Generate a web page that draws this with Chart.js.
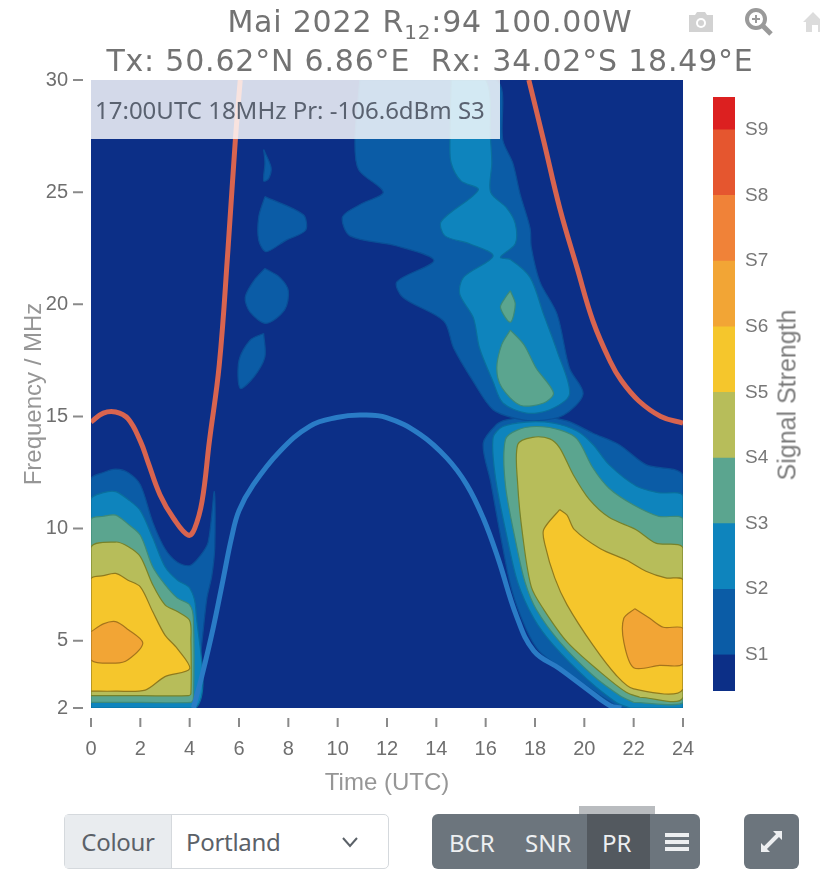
<!DOCTYPE html>
<html lang="de">
<head>
    <meta charset="UTF-8">
    <title>Propagation PR</title>
    <script src="https://cdn.jsdelivr.net/npm/chart.js"></script>
    <style>
        body { margin: 0; background: #fff; width: 820px; height: 871px; overflow: hidden; position: relative; font-family: "Liberation Sans", sans-serif; }
        canvas { position: absolute; }
        .title { position: absolute; left: 0; width: 860px; text-align: center; font-family: "DejaVu Sans", sans-serif; font-size: 30px; line-height: 36px; color: #737373; white-space: pre; letter-spacing: .8px; }
        .title sub { font-size: 20px; line-height: 0; vertical-align: -7px; }
        .hover { position: absolute; left: 91px; top: 80px; width: 409px; height: 59px; box-sizing: border-box; background: rgba(255,255,255,.82); padding: 13px 0 0 4px; font-family: "Noto Sans", sans-serif; font-size: 24px; line-height: 33px; color: #5a6270; white-space: nowrap; }
        .sideTitle { position: absolute; left: 787px; top: 395px; transform: translate(-50%,-50%) rotate(-90deg); font-size: 25px; color: #7d7d7d; white-space: nowrap; }
        .colourBox { position: absolute; left: 64px; top: 814px; width: 325px; height: 55px; box-sizing: border-box; border: 1px solid #d5d9dd; border-radius: 5px; display: flex; font-family: "Noto Sans", sans-serif; font-size: 24px; color: #5b6168; letter-spacing: -.3px; }
        .colourBox span:first-child { width: 106px; background: #e9ecef; text-align: center; line-height: 53px; border-right: 1px solid #d5d9dd; }
        .colourBox span:nth-child(2) { padding-left: 14px; line-height: 53px; }
        .btns { position: absolute; left: 432px; top: 814px; width: 268px; height: 55px; background: #6c757d; border-radius: 6px; color: #edeff1; font-family: "Noto Sans", sans-serif; font-size: 24px; }
        .btns span { position: absolute; top: 0; line-height: 57px; }
        .active { position: absolute; left: 155px; top: 0; width: 63px; height: 55px; background: #53595f; }
        .tab { position: absolute; left: 579px; top: 806px; width: 76px; height: 8px; background: #b9bcbf; }
        .bigBtn { position: absolute; left: 744px; top: 814px; width: 55px; height: 55px; background: #6c757d; border-radius: 6px; }
        svg { position: absolute; }
    </style>
</head>
<body>
    <canvas id="plot" width="700" height="800" style="left:0;top:0"></canvas>
    <canvas id="bar" width="120" height="720" style="left:700px;top:0"></canvas>

    <div class="title" style="top:4px">Mai 2022 R<sub>12</sub>:94 100.00W</div>
    <div class="title" style="top:43px">Tx: 50.62°N 6.86°E  Rx: 34.02°S 18.49°E</div>
    <div class="hover">17:00UTC 18MHz Pr: -106.6dBm S3</div>
    <div class="sideTitle">Signal Strength</div>

    <svg style="left:686px;top:9px" width="30" height="26" viewBox="0 0 30 26"><path d="M3 6h6l2-3h8l2 3h6v17H3z" fill="#d2d2d2"/><circle cx="15" cy="14" r="5" fill="#fff"/><circle cx="15" cy="14" r="3" fill="#d2d2d2"/></svg>
    <svg style="left:743px;top:6px" width="32" height="32" viewBox="0 0 32 32"><circle cx="13" cy="13" r="9" fill="none" stroke="#9a9a9a" stroke-width="4"/><path d="M19 19l9 9" stroke="#9a9a9a" stroke-width="5"/><path d="M9 13h8M13 9v8" stroke="#9a9a9a" stroke-width="2"/></svg>
    <svg style="left:803px;top:9px" width="17" height="26" viewBox="0 0 17 26"><path d="M10 3L0 13h3v10h6v-7h6v7h2V10z" fill="#dcdcdc"/></svg>

    <div class="colourBox"><span>Colour</span><span>Portland</span></div>
    <svg style="left:341px;top:836px" width="18" height="12" viewBox="0 0 18 12"><path d="M2 2l7 8 7-8" fill="none" stroke="#5b6168" stroke-width="2"/></svg>

    <div class="tab"></div>
    <div class="btns">
        <div class="active"></div>
        <span style="left:17px">BCR</span>
        <span style="left:93px">SNR</span>
        <span style="left:170px">PR</span>
        <svg style="left:232px;top:18px" width="26" height="20" viewBox="0 0 26 20"><path d="M1 3h24M1 10h24M1 17h24" stroke="#edeff1" stroke-width="4"/></svg>
    </div>
    <div class="bigBtn"><svg style="left:14px;top:14px" width="27" height="27" viewBox="0 0 27 27"><path d="M5 22L22 5" stroke="#edeff1" stroke-width="4"/><path d="M15 3h9v9zM3 15v9h9z" fill="#edeff1"/></svg></div>

    <script>
        // axes
        const timeTicks = [0, 2, 4, 6, 8, 10, 12, 14, 16, 18, 20, 22, 24];
        const freqTicks = [2, 5, 10, 15, 20, 25, 30];
        const sLevels = [1, 2, 3, 4, 5, 6, 7, 8, 9];
        const barEdges = [0.45, 1, 2, 3, 4, 5, 6, 7, 8, 9, 9.5];

        // contour outlines, [hour UTC, MHz], one array per closed region
        const s1Left = [[0,2],[0,12.2],[0.5,12.5],[1,12.65],[1.5,12.5],[2,11.95],[2.5,10.3],[3,9.1],[3.5,8.5],[4,8.35],[4.4,8.75],[4.75,9.4],[5,11.65],[5.02,9.2],[4.9,7.9],[4.7,6.9],[4.5,4.95],[4.35,3.45],[4.1,2]];
        const s1Upper = [[10.9,30],[10.7,27.3],[10.85,26],[11.85,25],[11,24.5],[10.2,23.9],[10.5,23.05],[12.4,22.6],[13.9,21.95],[12.4,21],[12.65,20.3],[14.3,19.25],[14.7,18.05],[15.5,16.55],[16.3,15.3],[17.25,14.9],[18.05,14.8],[19.15,15.05],[19.95,16],[19.4,17.15],[18.9,19.55],[18.2,21],[17.85,22.55],[17.8,23.4],[17.4,24.9],[17.1,26.3],[16.7,27.3],[16.4,30]];
        const s1Right = [[21.45,2],[20.65,2.55],[19.3,3.6],[18.2,4.5],[17.65,5.5],[17.05,7.3],[16.6,9.7],[16.2,12.1],[15.9,13.8],[16.45,14.65],[16.85,14.85],[18,15],[19.3,14.8],[20.35,14.25],[21.4,13.75],[22.5,12.85],[24,12.33],[24,2]];
        const s1IslandA = [[7,26.9],[7.3,26.1],[7.2,25.6],[7,25.5],[7.05,26.3]];
        const s1IslandB = [[7.05,24.8],[8.6,24],[8.7,23.3],[7.9,22.85],[7.1,22.35],[6.8,22.85],[6.8,23.9]];
        const s1IslandC = [[7.05,21.6],[7.65,21.2],[8,20.6],[7.85,19.75],[7.1,19.15],[6.45,19.65],[6.25,20.3],[6.6,21.05]];
        const s1IslandD = [[7,18.7],[7.05,17.65],[6.6,16.75],[6.05,16.25],[6,17.5],[6.45,18.4]];
        const s2Left = [[0,2],[0,11.3],[0.5,11.6],[1,11.65],[1.5,11.3],[2,10.8],[2.5,9.6],[3,8.3],[3.5,7.7],[4,7.35],[4.25,6.4],[4.25,2]];
        const s2Upper = [[14.6,30],[14.55,27.3],[14.6,26.3],[15,25.5],[15.7,25.1],[14.2,23.7],[14.35,23.05],[15.35,22.7],[16.3,22.15],[15.1,21.2],[14.95,20.45],[15.5,19.4],[15.75,18.05],[16.3,16.55],[16.7,15.6],[17.65,15.15],[18.6,15.3],[19.4,16],[18.9,17.9],[18.35,19.55],[17.8,21.2],[17,22],[16.6,22.1],[17.2,22.7],[17.2,23.6],[16.85,24.3],[16.2,25],[16.25,26.3],[16.2,27.3],[16,30]];
        const s2Right = [[21.85,2],[21.3,2.25],[20.1,3.3],[18.75,4.8],[17.95,6],[17.3,7.6],[16.85,9.7],[16.4,12.25],[16.3,14.05],[16.7,14.55],[17.65,14.75],[18.75,14.7],[19.7,14.35],[20.35,13.75],[21,12.85],[22.1,11.9],[23,11.6],[24,11.43],[24,2]];
        const s3Left = [[0,2.25],[0,10.4],[0.5,10.55],[1,10.6],[1.5,10.2],[2,9.7],[2.5,8.3],[3,7.5],[3.5,6.9],[4,6.6],[4.15,6],[4.15,2.4],[4.05,2.25],[2,2.25]];
        const s3IslandA = [[17,18.85],[17.55,18.2],[18.05,17.15],[18.75,16.05],[18.35,15.6],[17.4,15.5],[16.65,16.3],[16.45,17.15],[16.65,18.2]];
        const s3IslandB = [[17,20.6],[17.2,20],[17,19.2],[16.6,19.85],[16.8,20.3]];
        const s3Right = [[22,2.25],[21.45,2.55],[20.35,3.45],[19,4.95],[18.05,6.4],[17.6,7.6],[17.25,9.25],[16.8,11.95],[16.8,13.97],[17.3,14.4],[18.05,14.55],[19,14.4],[19.7,14],[20.35,12.7],[21,11.8],[22,11.05],[23,10.55],[24,10.39],[24,2.25]];
        const s4Left = [[0,2.55],[0,9.15],[1,9.4],[1.5,9.2],[2,8.75],[2.5,7.5],[3,6.6],[3.5,6.3],[4,5.9],[4.05,5],[4.05,2.65],[3.95,2.55],[2,2.55]];
        const s4Right = [[22.25,2.48],[21.7,2.7],[20.65,3.6],[19.3,4.95],[18.35,6.4],[17.85,7.4],[17.5,9.7],[17.3,11.95],[17.3,13.75],[17.9,14.07],[18.6,14],[19,13.6],[19.55,12.4],[20.2,11.3],[21,10.5],[22.1,9.95],[22.9,9.35],[24,9.12],[24,2.48]];
        const s5Left = [[0,2.75],[0,7.75],[0.5,7.9],[1,8],[1.5,7.7],[2,7.4],[2.5,6.3],[3,5.25],[3.5,4.65],[4,3.75],[3,3.4],[2.2,2.8],[1,2.75]];
        const s5Right = [[19,10.85],[18.35,9.95],[18.4,9.3],[18.8,7.8],[19.3,6.6],[20.35,4.8],[21.3,3.45],[22,2.85],[24,2.85],[24,7.7],[23.3,7.8],[22.5,8.1],[21.7,8.6],[20.65,9.1],[19.6,9.95],[19.3,10.6]];
        const s6Left = [[0,5.4],[0.5,5.75],[1,5.85],[1.5,5.5],[2.1,4.9],[1.5,4.15],[1,4],[0,4.15]];
        const s6Right = [[22.05,6.43],[21.6,6],[21.6,4.95],[22,3.8],[23.05,3.9],[24,3.97],[24,5.54],[23.2,5.6],[22.65,6]];
        const plotFloor = [[0,2],[24,2],[24,30],[0,30]];

        // muf and luf style curves on top of the contours
        const redCurve = [[0,14.75],[0.5,15.15],[1,15.2],[1.5,14.9],[2,13.9],[2.3,13],[2.8,11.5],[3.35,10.45],[3.95,9.7],[4.2,10],[4.5,11.2],[4.8,13.9],[5.2,17.3],[5.55,22.4],[5.85,27.3],[6.05,30]];
        const redCurveRight = [[17.75,30],[18.35,27.3],[19,24.3],[19.7,21.65],[20.35,19.25],[21.05,17.45],[21.5,16.6],[22.2,15.7],[23.1,15],[24,14.7]];
        const blueCurve = [[4.15,2],[4.5,3.45],[4.95,5.55],[5.35,7.7],[5.7,9.6],[6,10.8],[6.58,11.96],[7.66,13.45],[8.88,14.57],[9.96,14.95],[10.9,15.06],[11.98,14.95],[13.34,14.2],[14.42,13.15],[15.23,11.96],[15.9,10.47],[16.5,8.68],[17.25,6.1],[17.95,4.55],[19,3.75],[20.1,2.85],[21.05,2.1],[21.5,2]];

        // colours, lowest level first
        const bandColours = ['#0c2f87', '#0b5ca6', '#0e84bd', '#5ba58f', '#b7bd5a', '#f5c62c', '#f2a535', '#f08238', '#e5562f', '#dc2020'];
        const edgeColours = ['#0c2f87', '#0a4f96', '#0a6f9d', '#3d8a78', '#77822a', '#8f7a1e', '#a5741c'];

        function polygon(points) {
            return points.concat([points[0]]).map(p => ({ x: p[0], y: p[1] }));
        }

        function band(points, level, tension) {
            return {
                data: polygon(points),
                band: true,
                showLine: true,
                pointRadius: 0,
                borderWidth: level === 0 ? 0 : 1.2,
                borderColor: edgeColours[level],
                backgroundColor: bandColours[level],
                tension: tension === undefined ? 0.3 : tension,
                clip: 0
            };
        }

        function curve(points, colour) {
            return {
                data: points.map(p => ({ x: p[0], y: p[1] })),
                showLine: true,
                pointRadius: 0,
                borderWidth: 5,
                borderColor: colour,
                tension: 0.4,
                clip: 0
            };
        }

        // Chart.js has no contour type, fill each closed line element itself
        const bandFill = {
            id: 'bandFill',
            beforeDatasetDraw(chart, args) {
                const ds = chart.data.datasets[args.index];
                if (!ds.band) return;
                const a = chart.chartArea;
                const ctx = chart.ctx;
                ctx.save();
                ctx.beginPath();
                ctx.rect(a.left, a.top, a.right - a.left, a.bottom - a.top);
                ctx.clip();
                ctx.beginPath();
                args.meta.dataset.path(ctx);
                ctx.closePath();
                ctx.fillStyle = ds.backgroundColor;
                ctx.fill();
                ctx.restore();
            }
        };

        // tick marks stand off from the plot
        const tickMarks = {
            id: 'tickMarks',
            afterDraw(chart) {
                const ctx = chart.ctx;
                const a = chart.chartArea;
                ctx.save();
                ctx.strokeStyle = '#8a8a8a';
                ctx.lineWidth = 2;
                ctx.beginPath();
                chart.scales.x.ticks.forEach(t => {
                    const px = chart.scales.x.getPixelForValue(t.value);
                    ctx.moveTo(px, a.bottom + 10);
                    ctx.lineTo(px, a.bottom + 19);
                });
                chart.scales.y.ticks.forEach(t => {
                    const py = chart.scales.y.getPixelForValue(t.value);
                    ctx.moveTo(a.left - 18, py);
                    ctx.lineTo(a.left - 8, py);
                });
                ctx.stroke();
                ctx.restore();
            }
        };

        new Chart(document.getElementById('plot'), {
            type: 'scatter',
            data: {
                datasets: [
                    curve(redCurve, '#d8644f'),
                    curve(redCurveRight, '#d8644f'),
                    curve(blueCurve, '#2a7cc6'),
                    band(s6Left, 6), band(s6Right, 6),
                    band(s5Left, 5), band(s5Right, 5),
                    band(s4Left, 4), band(s4Right, 4),
                    band(s3IslandA, 3), band(s3IslandB, 3), band(s3Left, 3), band(s3Right, 3),
                    band(s2Left, 2), band(s2Upper, 2), band(s2Right, 2),
                    band(s1Left, 1), band(s1Upper, 1), band(s1Right, 1),
                    band(s1IslandA, 1), band(s1IslandB, 1), band(s1IslandC, 1), band(s1IslandD, 1),
                    band(plotFloor, 0, 0)
                ]
            },
            options: {
                responsive: false,
                animation: false,
                layout: { padding: { top: 80, right: 17 } },
                plugins: { legend: { display: false }, tooltip: { enabled: false } },
                scales: {
                    x: {
                        type: 'linear',
                        min: 0,
                        max: 24,
                        grid: { display: false, drawTicks: false },
                        border: { display: false },
                        afterBuildTicks: s => { s.ticks = timeTicks.map(v => ({ value: v })); },
                        afterFit: s => { s.height = 92; s.paddingLeft = 0; s.paddingRight = 0; },
                        ticks: { padding: 29, maxRotation: 0, color: '#6f6f6f', font: { family: 'Liberation Sans', size: 20 } },
                        title: { display: true, text: 'Time (UTC)', color: '#969696', padding: { top: 0, bottom: 2 }, font: { family: 'Liberation Sans', size: 24 } }
                    },
                    y: {
                        type: 'linear',
                        min: 2,
                        max: 30,
                        grid: { display: false, drawTicks: false },
                        border: { display: false },
                        afterBuildTicks: s => { s.ticks = freqTicks.map(v => ({ value: v })); },
                        afterFit: s => { s.width = 91; s.paddingTop = 0; s.paddingBottom = 0; },
                        ticks: { padding: 23, color: '#6f6f6f', font: { family: 'Liberation Sans', size: 20 } },
                        title: { display: true, text: 'Frequency / MHz', color: '#969696', padding: { top: 20, bottom: 0 }, font: { family: 'Liberation Sans', size: 24 } }
                    }
                }
            },
            plugins: [bandFill, tickMarks]
        });

        // colour bar
        new Chart(document.getElementById('bar'), {
            type: 'bar',
            data: {
                labels: [''],
                datasets: bandColours.map((c, i) => ({
                    data: [[barEdges[i], barEdges[i + 1]]],
                    backgroundColor: c,
                    barPercentage: 1,
                    categoryPercentage: 1,
                    grouped: false
                }))
            },
            options: {
                responsive: false,
                animation: false,
                layout: { padding: { left: 13, top: 97, bottom: 29 } },
                plugins: { legend: { display: false }, tooltip: { enabled: false } },
                scales: {
                    x: { display: false },
                    y: {
                        position: 'right',
                        min: 0.45,
                        max: 9.5,
                        grid: { display: false, drawTicks: false },
                        border: { display: false },
                        afterBuildTicks: s => { s.ticks = sLevels.map(v => ({ value: v })); },
                        afterFit: s => { s.width = 85; s.paddingTop = 0; s.paddingBottom = 0; },
                        ticks: { padding: 10, color: '#777', callback: v => 'S' + v, font: { family: 'Liberation Sans', size: 19 } }
                    }
                }
            }
        });
    </script>
</body>
</html>
